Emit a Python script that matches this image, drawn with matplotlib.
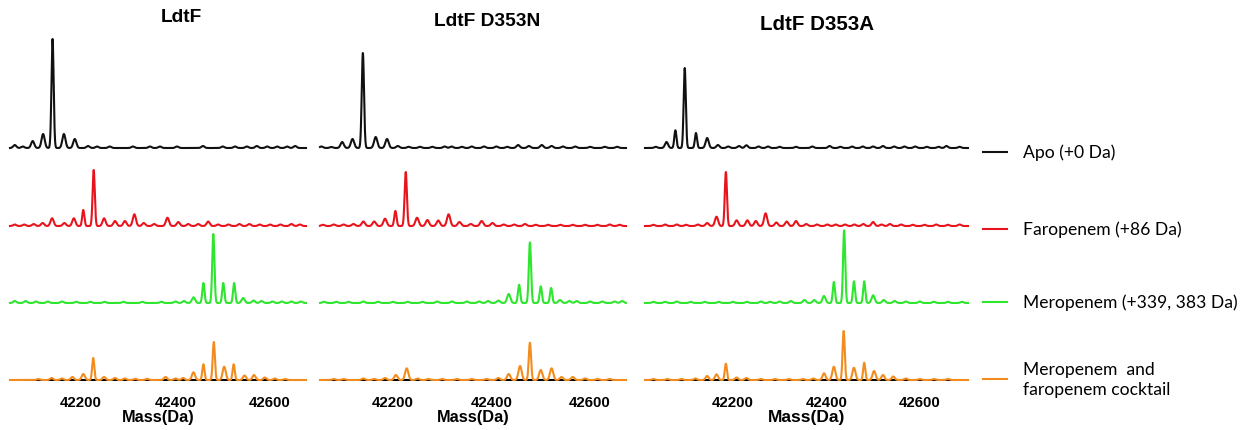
import numpy as np
import matplotlib
matplotlib.use("Agg")
import matplotlib.pyplot as plt
from matplotlib.lines import Line2D

# ---------------- data ----------------
panel_titles = ["LdtF", "LdtF D353N", "LdtF D353A"]
mass_ticks = [42200, 42400, 42600]
mass_ranges = [(42050, 42676), (42052, 42673), (42012, 42703)]
legend_labels = ["Apo (+0 Da)", "Faropenem (+86 Da)",
                 "Meropenem (+339, 383 Da)", "Meropenem  and\nfaropenem cocktail"]
trace_colors = ["#111111", "#e8141c", "#2ee62e", "#f28c1e"]

# LdtF
ldtf_apo_mass = [42060, 42077, 42098, 42120, 42140, 42164, 42187, 42215, 42234, 42261, 42310, 42346,
                 42367, 42403, 42458, 42500, 42526, 42551, 42572, 42594, 42615, 42636, 42653]
ldtf_apo_int = [3, 1.5, 7, 14, 109, 14, 9, 2, 1.5, 1.5, 1.5, 1.5,
                1.5, 1.5, 2, 1.5, 1.5, 1.5, 2, 1.5, 1.5, 1.5, 2]
ldtf_faro_mass = [42060, 42080, 42100, 42119, 42139, 42165, 42185, 42205, 42227, 42249, 42272, 42293,
                  42313, 42333, 42355, 42383, 42406, 42427, 42448, 42469, 42490, 42512, 42535, 42556,
                  42578, 42600, 42622, 42645, 42663]
ldtf_faro_int = [1.5, 1.5, 2, 3, 7.7, 3, 7.7, 16, 56, 7.7, 5, 5,
                 11.7, 3, 2, 8.3, 4, 2, 2, 4.5, 1.5, 1.5, 2, 2,
                 1.5, 1.5, 1.5, 2, 1.5]
ldtf_mero_mass = [42060, 42083, 42105, 42130, 42160, 42190, 42220, 42250, 42290, 42330, 42370, 42400,
                  42418, 42438, 42459, 42480, 42501, 42524, 42543, 42565, 42582, 42605, 42625, 42645, 42665]
ldtf_mero_int = [2, 2, 1.5, 1.5, 1.5, 1.2, 1.2, 1.2, 1.2, 1.2, 1.2, 1.5,
                 2, 5.7, 20, 69, 20, 20, 5, 2.5, 2, 1.5, 1.5, 1.5, 1.5]
ldtf_mix_mass = [42110, 42138, 42160, 42182, 42205, 42226, 42249, 42272, 42293, 42315, 42340, 42379,
                 42400, 42416, 42438, 42459, 42481, 42503, 42523, 42546, 42566, 42589, 42610, 42632]
ldtf_mix_int = [1, 2, 1.5, 3, 6, 22, 3, 2, 1.5, 1.2, 1.2, 3,
                1.5, 2, 7.7, 15.7, 38, 13.3, 15.7, 4.5, 5, 2.5, 1.5, 1]

# LdtF D353N
d353n_apo_mass = [42055, 42075, 42097, 42118, 42139, 42165, 42188, 42210, 42232, 42255, 42280, 42305,
                  42319, 42340, 42360, 42385, 42410, 42432, 42454, 42476, 42502, 42522, 42545, 42570,
                  42600, 42630, 42655]
d353n_apo_int = [1.5, 1, 6, 9, 95, 11, 9, 2, 1.2, 1.2, 1.2, 1.5,
                 1.5, 1.2, 1.5, 1.5, 1.5, 1.2, 3, 2, 3, 2, 1.5, 1.5,
                 1.2, 1.2, 1.2]
d353n_faro_mass = [42058, 42080, 42100, 42120, 42140, 42162, 42184, 42205, 42226, 42249, 42270, 42292,
                   42313, 42335, 42358, 42380, 42402, 42425, 42446, 42468, 42490, 42515, 42540, 42565,
                   42590, 42615, 42640, 42660]
d353n_faro_int = [1.2, 1.5, 1.5, 2, 4.5, 4.5, 7.3, 15, 54, 8.3, 6, 5.5,
                  11.7, 4, 2, 5, 3, 1.5, 1.5, 2, 1.2, 1.2, 1.2, 1.2,
                  1.2, 1.2, 1.5, 1.2]
d353n_mero_mass = [42060, 42085, 42110, 42140, 42170, 42200, 42230, 42260, 42290, 42320, 42350, 42375,
                   42393, 42414, 42435, 42456, 42478, 42500, 42521, 42539, 42558, 42573, 42600, 42625,
                   42650, 42665]
d353n_mero_int = [1.2, 1.2, 1.2, 1.5, 1.2, 1.2, 1.2, 1.2, 1.5, 1.5, 1.5, 1.5,
                  2, 2.5, 9, 18.3, 60.6, 16.7, 15, 3, 2, 2, 1.5, 1.5,
                  1.5, 2]
d353n_mix_mass = [42080, 42100, 42140, 42162, 42184, 42206, 42228, 42250, 42272, 42300, 42330, 42360,
                  42390, 42414, 42435, 42458, 42478, 42500, 42522, 42542, 42565, 42590, 42615, 42640]
d353n_mix_int = [1, 1, 1.5, 1, 2, 5, 11.7, 1.5, 1, 1, 1, 1,
                 1, 2, 6, 14, 37.3, 10, 11.7, 3, 3, 1.5, 1, 1]

# LdtF D353A
d353a_apo_mass = [42035, 42058, 42077, 42097, 42121, 42145, 42168, 42190, 42213, 42229, 42255, 42275,
                  42300, 42335, 42370, 42407, 42430, 42455, 42478, 42500, 42521, 42545, 42567, 42590,
                  42615, 42640, 42657, 42685]
d353a_apo_int = [1.2, 6, 17.7, 80, 15, 10, 3, 1.5, 2, 2.7, 1.5, 1.5,
                 1.2, 1.2, 1.5, 2, 1.2, 1.5, 1.5, 1.5, 2, 1.5, 1.5, 1.5,
                 1.2, 1.2, 2, 1.2]
d353a_faro_mass = [42030, 42055, 42080, 42100, 42125, 42145, 42165, 42185, 42208, 42231, 42249, 42270,
                   42293, 42315, 42335, 42357, 42380, 42402, 42420, 42440, 42460, 42479, 42500, 42518,
                   42536, 42560, 42585, 42610, 42635, 42660, 42685]
d353a_faro_int = [1.2, 1.5, 1.5, 1.2, 1.5, 3, 9.3, 54, 5.7, 5.7, 5, 12.7,
                  3.5, 4.5, 5, 2, 1.5, 1.5, 1.5, 1.5, 1.5, 2, 4, 1.5,
                  2, 1.5, 1.2, 1.2, 1.5, 1.2, 1.5]
d353a_mero_mass = [42030, 42055, 42080, 42110, 42140, 42170, 42200, 42230, 42260, 42280, 42300, 42324,
                   42353, 42374, 42395, 42416, 42438, 42459, 42481, 42500, 42523, 42546, 42570, 42600,
                   42630, 42660, 42690]
d353a_mero_int = [1.2, 1.2, 1.5, 1.2, 1.2, 1.2, 1.2, 1.2, 1.5, 1.2, 1.5, 2,
                  3, 3, 7, 21, 72.6, 21.7, 21.7, 7.7, 3, 2, 1.5, 1.5,
                  1.2, 1.2, 1.2]
d353a_mix_mass = [42030, 42060, 42090, 42120, 42145, 42165, 42185, 42208, 42229, 42260, 42290, 42320,
                  42350, 42372, 42395, 42416, 42437, 42459, 42481, 42502, 42521, 42543, 42570, 42600,
                  42630, 42660]
d353a_mix_int = [1, 1, 1, 1.5, 4, 5.7, 16.3, 2.5, 2, 1, 1, 1,
                 1, 1.5, 6.7, 13.3, 49, 12.3, 17.3, 9, 5, 3.5, 1.5, 1,
                 1, 1]

panels = [
    [(ldtf_apo_mass, ldtf_apo_int), (ldtf_faro_mass, ldtf_faro_int),
     (ldtf_mero_mass, ldtf_mero_int), (ldtf_mix_mass, ldtf_mix_int)],
    [(d353n_apo_mass, d353n_apo_int), (d353n_faro_mass, d353n_faro_int),
     (d353n_mero_mass, d353n_mero_int), (d353n_mix_mass, d353n_mix_int)],
    [(d353a_apo_mass, d353a_apo_int), (d353a_faro_mass, d353a_faro_int),
     (d353a_mero_mass, d353a_mero_int), (d353a_mix_mass, d353a_mix_int)],
]

# ---------------- layout (pixels) ----------------
W, H = 1249, 431
row_offsets = [232, 154, 77, 0]
panel_px = [(10, 306), (320, 626), (645, 968)]
ax_top_px, ax_bot_px = 30, 381
title_px = [(181, 18), (487, 22), (817, 24)]
title_sizes = [13.8, 13.8, 14.8]

plt.rcParams['font.family'] = ['Liberation Sans', 'DejaVu Sans']
fig = plt.figure(figsize=(W / 100, H / 100), dpi=100)


def spectrum(x, masses, ints):
    y = np.zeros_like(x)
    for m, h in zip(masses, ints):
        s = 2.3 if h >= 15 else 3.3
        y += h * np.exp(-0.5 * ((x - m) / s) ** 2)
    return y


for p, ((x0, x1), rows) in enumerate(zip(panel_px, panels)):
    ax = fig.add_axes([x0 / W, 1 - ax_bot_px / H, (x1 - x0) / W, (ax_bot_px - ax_top_px) / H])
    lo, hi = mass_ranges[p]
    x = np.arange(lo, hi + 0.25, 0.25)
    for r, (masses, ints) in enumerate(rows):
        y = spectrum(x, masses, ints) + row_offsets[r]
        ax.plot(x, y, color=trace_colors[r], lw=1.5, zorder=3, clip_on=False,
                solid_joinstyle='round')
    ax.set_xlim(lo, hi)
    ax.set_ylim(0, ax_bot_px - ax_top_px)
    for s in ['top', 'right', 'left']:
        ax.spines[s].set_visible(False)
    ax.spines['bottom'].set_linewidth(1.4)
    ax.spines['bottom'].set_zorder(2)
    ax.set_yticks([])
    ax.set_xticks(mass_ticks)
    ax.tick_params(axis='x', length=0, pad=11)
    for lab in ax.get_xticklabels():
        lab.set_fontweight('bold')
        lab.set_fontsize(10.8)
    ax.set_xlabel("Mass(Da)", fontsize=11.8 if p < 2 else 12.5, fontweight='bold', labelpad=0)
    fig.text(title_px[p][0] / W, 1 - title_px[p][1] / H, panel_titles[p],
             ha='center', va='center', fontsize=title_sizes[p], fontweight='bold')

# legend
leg_y_px = [153, 230, 303, 380]
for lab, col, ypx in zip(legend_labels, trace_colors, leg_y_px):
    yf = 1 - ypx / H
    fig.add_artist(Line2D([983 / W, 1007 / W], [yf, yf], color=col, lw=1.5,
                          transform=fig.transFigure))
    fig.text(1023 / W, yf, lab, ha='left', va='center', fontsize=12.6,
             family=['Lato', 'DejaVu Sans'], linespacing=1.3)

fig.savefig("out.png", dpi=100)
